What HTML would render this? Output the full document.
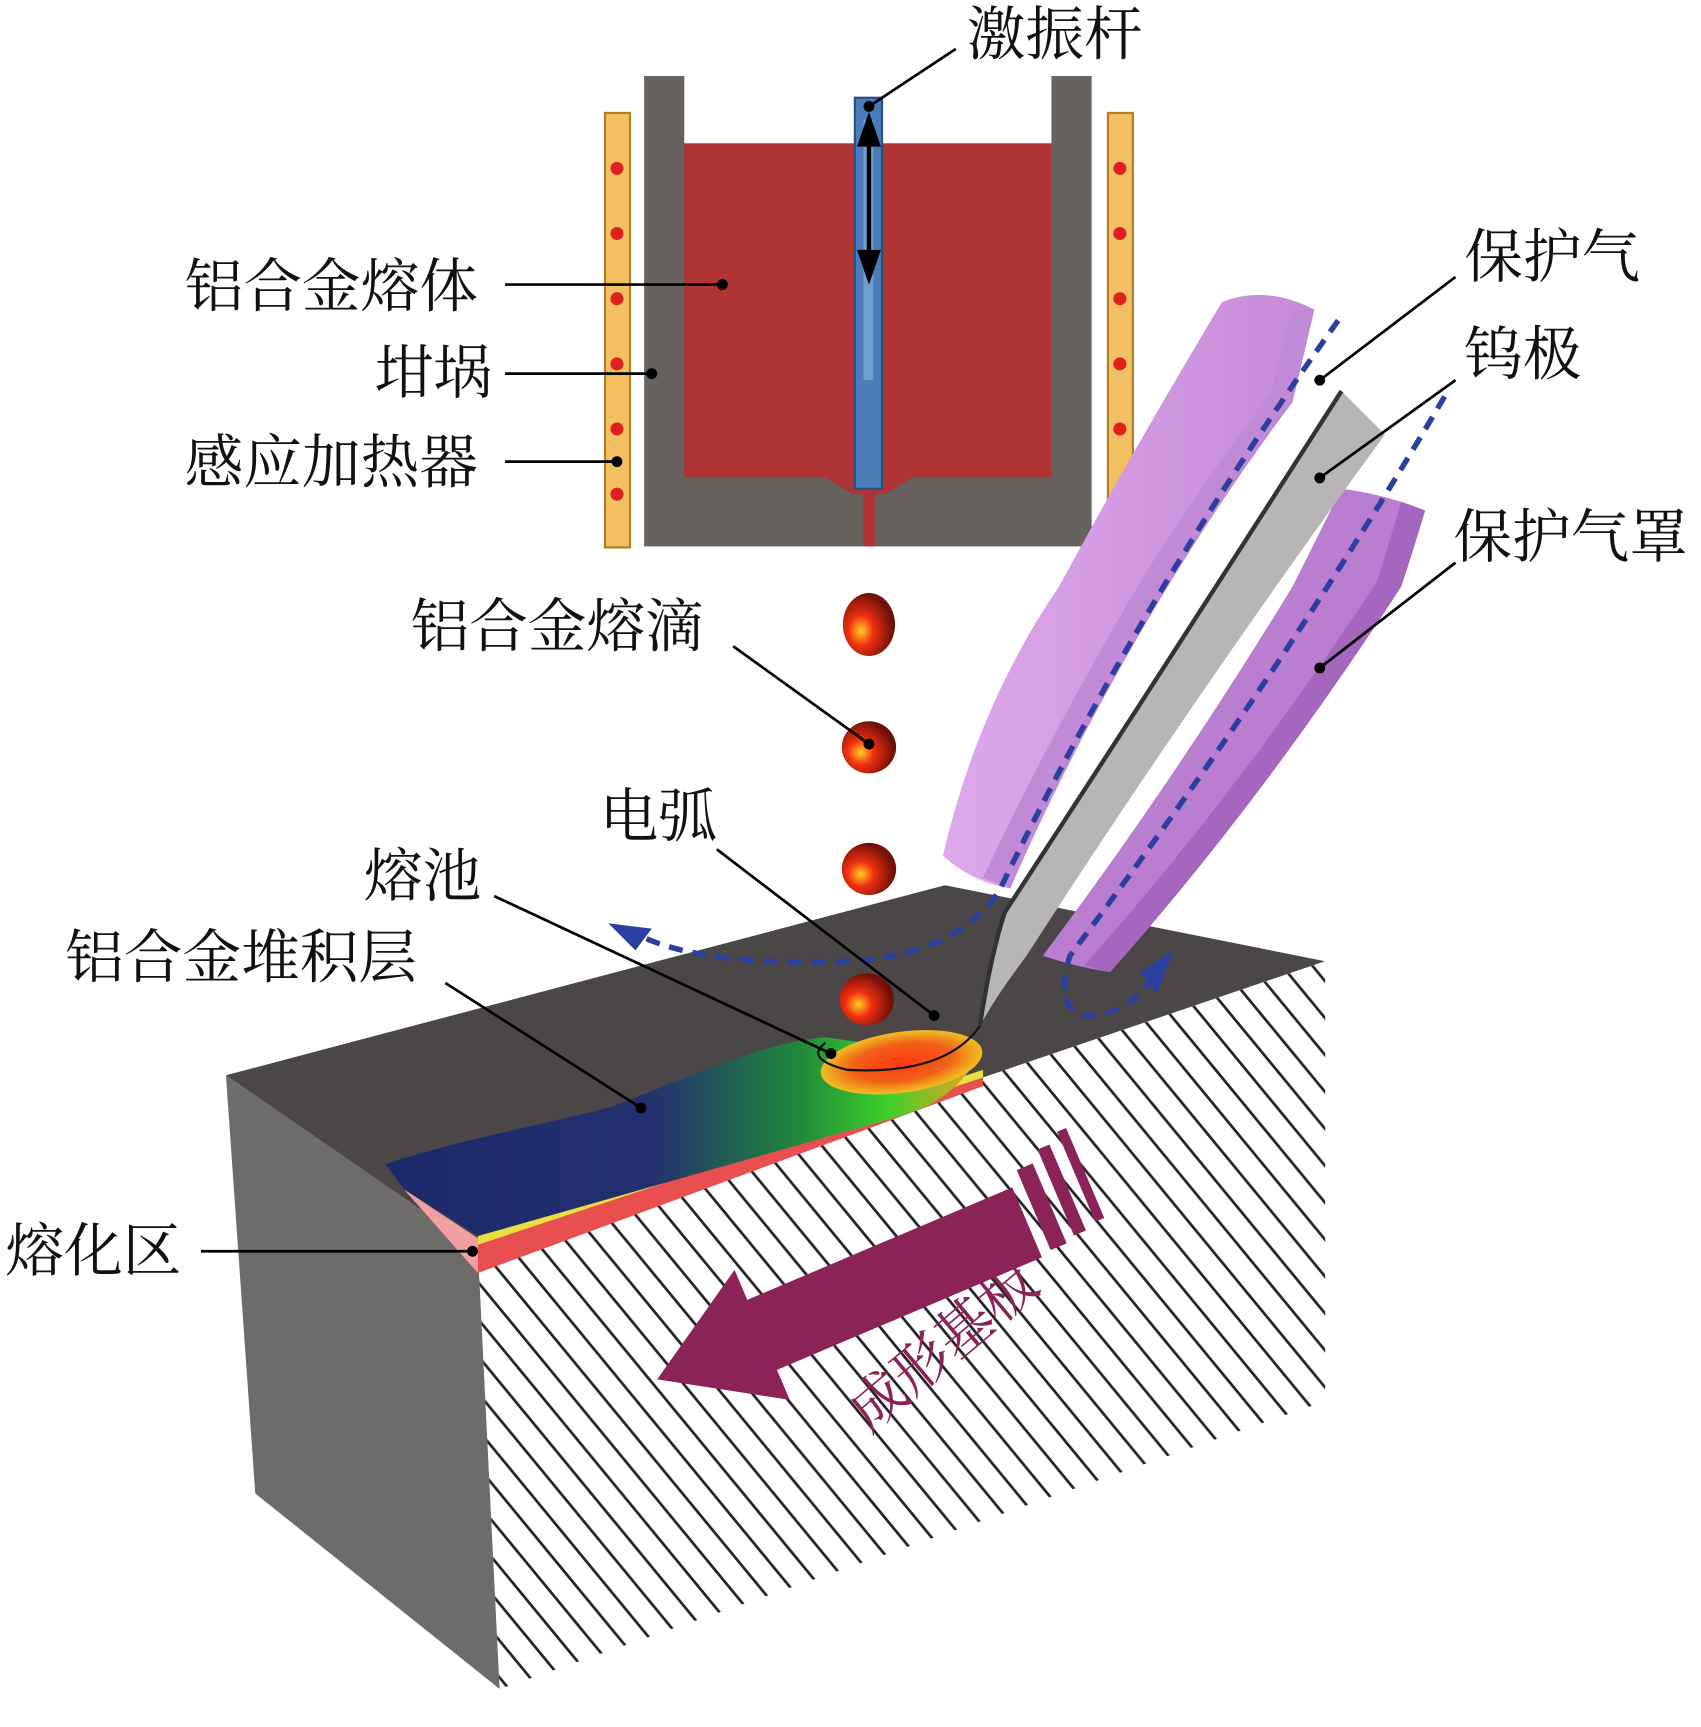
<!DOCTYPE html>
<html><head><meta charset="utf-8"><style>
html,body{margin:0;padding:0;background:#fff}
svg{display:block}
text{font-family:"Liberation Serif","Noto Serif CJK SC","Noto Sans CJK SC",serif;fill:#111}
</style></head><body>
<svg width="1701" height="1727" viewBox="0 0 1566 1590" preserveAspectRatio="none" xmlns="http://www.w3.org/2000/svg">
<defs>
<pattern id="hatch" patternUnits="userSpaceOnUse" width="28" height="34">
<rect width="28" height="34" fill="#fff"/>
<line x1="-2" y1="-2.4" x2="30" y2="36.4" stroke="#222" stroke-width="2.5"/>
<line x1="-30" y1="-2.4" x2="2" y2="36.4" stroke="#222" stroke-width="2.5"/>
<line x1="26" y1="-2.4" x2="58" y2="36.4" stroke="#222" stroke-width="2.5"/>
</pattern>
<linearGradient id="bead" x1="0" y1="0" x2="1" y2="0">
<stop offset="0" stop-color="#1c2a6a"/><stop offset="0.45" stop-color="#24306e"/><stop offset="0.7" stop-color="#1f8a3a"/><stop offset="0.85" stop-color="#3fd02a"/><stop offset="1" stop-color="#f0a020"/>
</linearGradient>
<radialGradient id="pool" cx="0.5" cy="0.5" r="0.5"><stop offset="0" stop-color="#ff3a10"/><stop offset="0.6" stop-color="#f06018"/><stop offset="1" stop-color="#f0c020"/></radialGradient>
<radialGradient id="drop" cx="0.35" cy="0.6" r="0.6"><stop offset="0" stop-color="#ffd020"/><stop offset="0.4" stop-color="#f03010"/><stop offset="1" stop-color="#701008"/></radialGradient>
<linearGradient id="purp" x1="0" y1="0" x2="1" y2="0"><stop offset="0" stop-color="#dfa8ec"/><stop offset="1" stop-color="#c58ad8"/></linearGradient>
</defs>

<rect x="557" y="104" width="23" height="400" fill="#f2c060" stroke="#b08020" stroke-width="2"/>
<rect x="1020" y="104" width="23" height="400" fill="#f2c060" stroke="#b08020" stroke-width="2"/>
<g fill="#e02020">
<circle cx="568" cy="155" r="6"/><circle cx="568" cy="215" r="6"/><circle cx="568" cy="275" r="6"/><circle cx="568" cy="335" r="6"/><circle cx="568" cy="395" r="6"/><circle cx="568" cy="455" r="6"/>
<circle cx="1031" cy="155" r="6"/><circle cx="1031" cy="215" r="6"/><circle cx="1031" cy="275" r="6"/><circle cx="1031" cy="335" r="6"/><circle cx="1031" cy="395" r="6"/><circle cx="1031" cy="455" r="6"/>
</g>
<path d="M593 70 H630 V132 H968 V70 H1005 V503 H593 Z" fill="#666260"/>
<path d="M630 132 H968 V440 H840 L815 455 H785 L760 440 H630 Z" fill="#ae3533"/>
<rect x="795" y="455" width="11" height="48" fill="#ae3533"/>
<rect x="787" y="90" width="25" height="360" fill="#4a7cb8" stroke="#2a4f80" stroke-width="2"/>
<rect x="795" y="110" width="9" height="240" fill="#8ab8e0" opacity="0.6"/>
<line x1="800" y1="120" x2="800" y2="245" stroke="#000" stroke-width="4"/>
<path d="M800 103 L789 135 H811 Z M800 262 L789 230 H811 Z" fill="#000"/>

<polygon points="208,990 235,1375 460,1555 440,1150" fill="#6e6c6a"/>
<polygon points="208,990 870,815 1220,885 440,1150" fill="#4a4746"/>
<polygon points="440,1150 1220,885 1220,1290 460,1555" fill="url(#hatch)"/>
<polygon points="372,1095 440,1140 905,985 905,1000 440,1172" fill="#e85050"/>
<polygon points="372,1095 440,1140 440,1172" fill="#f0a0a0"/>
<polygon points="440,1138 905,985 905,992 440,1146" fill="#e8e040"/>
<path d="M355 1072 C420 1050 480 1040 560 1020 C640 990 700 960 760 955 L900 975 C880 1005 860 1020 820 1030 L440 1138 L372 1095 Z" fill="url(#bead)"/>
<ellipse cx="830" cy="978" rx="75" ry="28" fill="url(#pool)" transform="rotate(-8 830 978)"/>

<ellipse cx="800" cy="575" rx="24" ry="29" fill="url(#drop)"/>
<ellipse cx="800" cy="688" rx="25" ry="24" fill="url(#drop)"/>
<ellipse cx="800" cy="800" rx="25" ry="24" fill="url(#drop)"/>
<ellipse cx="798" cy="920" rx="25" ry="24" fill="url(#drop)"/>

<path d="M1125 278 Q1165 262 1210 285 L1190 370 Q1130 450 1075 540 Q990 680 930 818 Q895 812 868 788 Q900 650 975 540 Q1040 420 1125 278 Z" fill="url(#purp)"/>
<path d="M1188 288 L1210 285 L1190 370 Q1130 450 1075 540 Q990 680 930 818 L905 808 Q970 670 1052 532 Q1110 440 1170 362 Z" fill="#c08ad6"/>
<path d="M1235 450 Q1275 455 1312 470 Q1300 510 1290 540 Q1160 740 1022 895 Q990 890 960 880 Q1080 720 1190 540 Z" fill="#b97ed0"/>
<path d="M1290 462 L1312 470 Q1300 510 1290 540 Q1160 740 1022 895 L998 889 Q1140 730 1268 535 Z" fill="#a566c0"/>
<path d="M1235 360 L1275 400 Q1100 640 945 880 Q915 920 902 945 Q912 880 925 840 Q1080 600 1235 360 Z" fill="#b8b6b4"/>
<path d="M1235 360 Q1075 610 925 840 Q912 880 902 945" fill="none" stroke="#333" stroke-width="4"/>
<g fill="none" stroke="#2b3fa0" stroke-width="5" stroke-dasharray="13 9">
<path d="M1232 295 Q1050 550 920 820 Q880 880 780 885 Q650 890 590 862"/>
<path d="M1330 365 Q1180 620 985 880 Q970 930 1000 935 Q1040 935 1065 895"/>
</g>
<path d="M560 850 L600 855 L585 875 Z" fill="#2b3fa0"/>
<path d="M1080 875 L1065 915 L1050 895 Z" fill="#2b3fa0"/>
<path d="M902 945 Q870 990 780 985 Q740 975 760 960" fill="none" stroke="#111" stroke-width="2"/>

<g transform="translate(605,1270) rotate(-23)">
<polygon points="0,0 105,-65 105,-35 370,-35 370,35 105,35 105,65" fill="#8c2358"/>
<rect x="380" y="-48" width="16" height="80" fill="#8c2358"/>
<rect x="405" y="-58" width="12" height="86" fill="#8c2358"/>
<rect x="428" y="-66" width="9" height="90" fill="#8c2358"/>
</g>
<text x="0" y="0" font-size="52" transform="translate(800,1320) rotate(-40)" style="fill:#8c2358">成形基板</text>

<g stroke="#000" stroke-width="2.5" fill="none">
<line x1="880" y1="45" x2="800" y2="98"/>
<line x1="465" y1="262" x2="665" y2="262"/>
<line x1="465" y1="344" x2="600" y2="344"/>
<line x1="465" y1="425" x2="568" y2="425"/>
<line x1="1340" y1="255" x2="1215" y2="350"/>
<line x1="1340" y1="350" x2="1215" y2="440"/>
<line x1="1340" y1="518" x2="1215" y2="615"/>
<line x1="675" y1="595" x2="800" y2="685"/>
<line x1="660" y1="782" x2="860" y2="935"/>
<line x1="455" y1="825" x2="765" y2="970"/>
<line x1="410" y1="905" x2="590" y2="1020"/>
<line x1="185" y1="1152" x2="435" y2="1152"/>
</g>
<g fill="#000">
<circle cx="800" cy="98" r="5"/><circle cx="665" cy="262" r="5"/><circle cx="600" cy="344" r="5"/><circle cx="568" cy="425" r="5"/>
<circle cx="1215" cy="350" r="5"/><circle cx="1215" cy="440" r="5"/><circle cx="1215" cy="615" r="5"/><circle cx="800" cy="685" r="5"/>
<circle cx="860" cy="935" r="5"/><circle cx="765" cy="970" r="5"/><circle cx="590" cy="1020" r="5"/><circle cx="435" cy="1152" r="5"/>
</g>

<g font-size="54">
<text x="890" y="50">激振杆</text>
<text x="170" y="282">铝合金熔体</text>
<text x="345" y="362">坩埚</text>
<text x="170" y="444">感应加热器</text>
<text x="1348" y="255">保护气</text>
<text x="1348" y="345">钨极</text>
<text x="1338" y="513">保护气罩</text>
<text x="378" y="595">铝合金熔滴</text>
<text x="552" y="770">电弧</text>
<text x="335" y="825">熔池</text>
<text x="60" y="900">铝合金堆积层</text>
<text x="5" y="1170">熔化区</text>
</g>
</svg>
</body></html>
